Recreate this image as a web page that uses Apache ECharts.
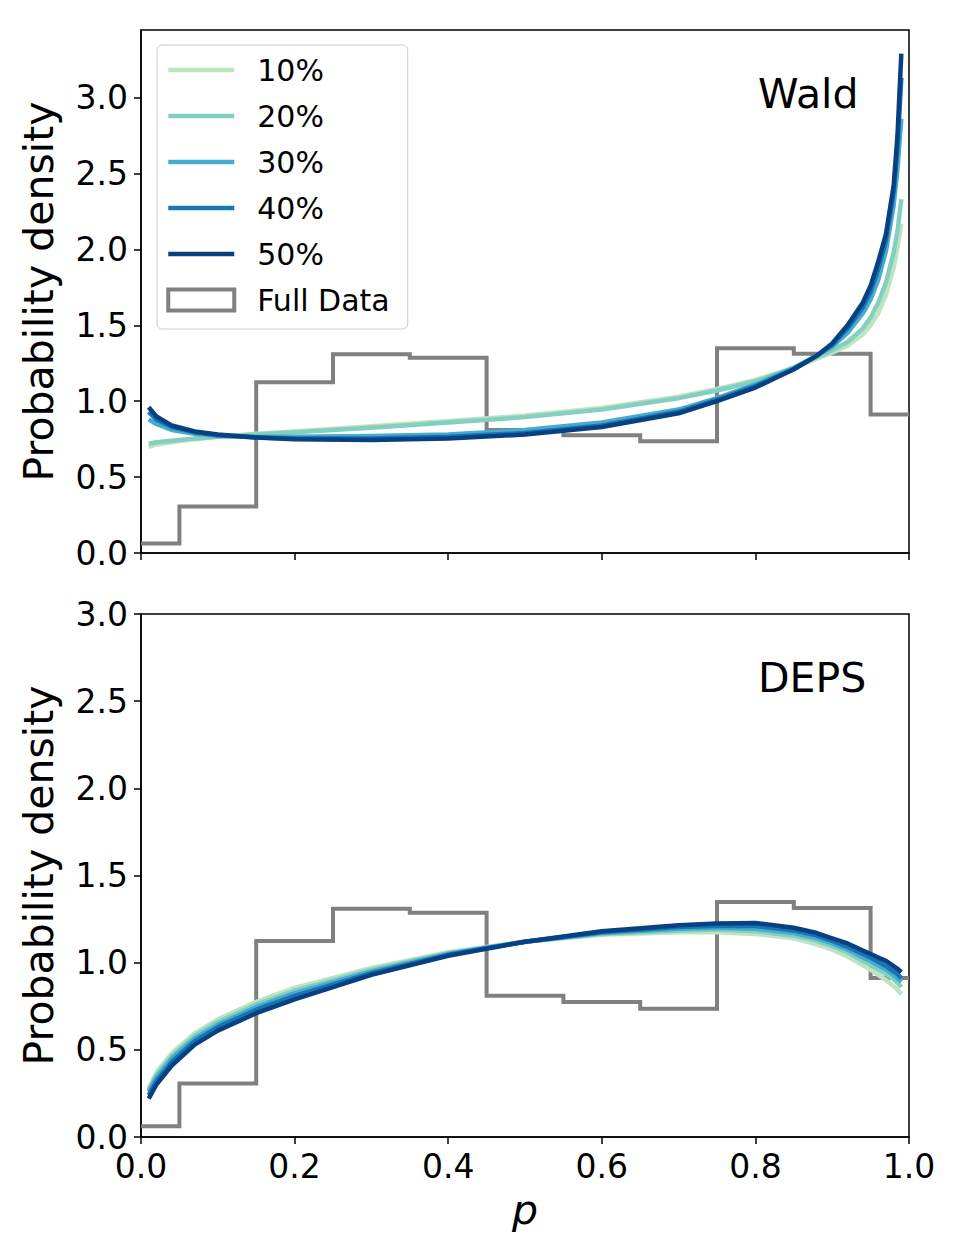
<!DOCTYPE html>
<html><head><meta charset="utf-8">
<script src="https://cdn.jsdelivr.net/npm/echarts@6/dist/echarts.min.js"></script>
<style>html,body{margin:0;padding:0;background:#fff}#c{width:960px;height:1260px}</style>
</head><body><div id="c"></div>
<script>
// ---- data ----
const pGrid = [0.01,0.02,0.04,0.07,0.1,0.15,0.2,0.3,0.4,0.5,0.6,0.7,0.75,0.8,0.85,0.88,0.9,0.92,0.94,0.95,0.96,0.97,0.98,0.985,0.99];
const seriesNames = ['10%','20%','30%','40%','50%'];
const wald10 = [0.70,0.715,0.73,0.75,0.765,0.785,0.80,0.835,0.87,0.905,0.955,1.03,1.08,1.14,1.22,1.28,1.32,1.365,1.44,1.50,1.58,1.70,1.88,2.01,2.17];
const wald20 = [0.72,0.73,0.74,0.755,0.765,0.78,0.795,0.825,0.86,0.895,0.945,1.02,1.07,1.13,1.22,1.29,1.335,1.39,1.48,1.55,1.65,1.78,1.98,2.12,2.33];
const wald30 = [0.88,0.85,0.81,0.785,0.77,0.765,0.765,0.77,0.78,0.81,0.86,0.945,1.02,1.11,1.22,1.30,1.36,1.45,1.58,1.67,1.80,1.99,2.29,2.53,2.86];
const wald40 = [0.93,0.88,0.83,0.795,0.775,0.76,0.755,0.755,0.765,0.79,0.84,0.93,1.01,1.10,1.21,1.30,1.37,1.48,1.62,1.72,1.87,2.06,2.38,2.66,3.13];
const wald50 = [0.96,0.90,0.84,0.80,0.78,0.76,0.75,0.745,0.755,0.78,0.83,0.92,1.00,1.09,1.21,1.30,1.38,1.50,1.65,1.76,1.92,2.10,2.42,2.75,3.29];
const deps10 = [0.28,0.37,0.48,0.595,0.675,0.775,0.855,0.97,1.06,1.12,1.16,1.175,1.175,1.165,1.14,1.105,1.075,1.035,0.985,0.96,0.93,0.90,0.865,0.845,0.82];
const deps20 = [0.27,0.355,0.465,0.58,0.66,0.76,0.84,0.96,1.055,1.12,1.165,1.185,1.19,1.18,1.155,1.125,1.095,1.06,1.01,0.99,0.96,0.935,0.905,0.885,0.86];
const deps30 = [0.26,0.34,0.45,0.565,0.645,0.745,0.825,0.95,1.05,1.12,1.17,1.195,1.20,1.195,1.17,1.14,1.11,1.075,1.03,1.01,0.985,0.96,0.93,0.91,0.89];
const deps40 = [0.24,0.32,0.43,0.55,0.63,0.73,0.81,0.94,1.045,1.12,1.175,1.205,1.21,1.21,1.185,1.155,1.125,1.09,1.05,1.03,1.005,0.98,0.95,0.935,0.91];
const deps50 = [0.22,0.30,0.41,0.53,0.61,0.71,0.79,0.93,1.04,1.12,1.18,1.215,1.225,1.228,1.20,1.17,1.14,1.11,1.07,1.05,1.03,1.01,0.98,0.965,0.945];
const binEdges = [-0.05,0.05,0.15,0.25,0.35,0.45,0.55,0.65,0.75,0.85,0.95,1.05];
const histHeights = [0.062,0.307,1.124,1.309,1.286,0.81,0.775,0.736,1.348,1.313,0.912];
const xTicks = [0,0.2,0.4,0.6,0.8,1.0];
const yTicks = [0,0.5,1.0,1.5,2.0,2.5,3.0];
const panelTitles = ['Wald','DEPS'];
const histName = 'Full Data';

// ---- styling ----
const colors = ['#bde5bf','#84cfc1','#47abcf','#1676b3','#084081'];
const FONT = 'DejaVu Sans';
const histColor = '#808080';

function zipP(vals){ return pGrid.map((p,i)=>[p, vals[i]]); }
function clamp01(x){ return Math.max(0, Math.min(1, x)); }
function histPoints(){
  const pts = [];
  histHeights.forEach((h,i)=>{ pts.push([clamp01(binEdges[i]),h]); pts.push([clamp01(binEdges[i+1]),h]); });
  return pts;
}

const gridTops = [30, 614];
const gridH = 523;
const yMax = [3.445, 3.0];
const panels = [[wald10,wald20,wald30,wald40,wald50],[deps10,deps20,deps30,deps40,deps50]];

const grids = gridTops.map(t=>({left:141, right:51, top:t, height:gridH, show:true, borderColor:'#000', borderWidth:1.5, backgroundColor:'transparent'}));

const xAxes = [0,1].map(i=>({
  type:'value', gridIndex:i, min:0, max:1, interval:0.2,
  axisLine:{show:true, onZero:false, lineStyle:{color:'#000', width:1.5}},
  axisTick:{show:true, length:7, lineStyle:{color:'#000', width:1.5}, customValues: xTicks},
  axisLabel:{show:i===1, customValues: xTicks, margin:13, fontFamily:FONT, fontSize:33, color:'#000', formatter:v=>v.toFixed(1)},
  splitLine:{show:false},
  name: i===1 ? 'p' : '', nameLocation:'middle', nameGap:52,
  nameTextStyle:{fontFamily:FONT, fontSize:41, fontStyle:'italic', color:'#000'}
}));
const yAxes = [0,1].map(i=>({
  type:'value', gridIndex:i, min:0, max:yMax[i],
  axisLine:{show:true, onZero:false, lineStyle:{color:'#000', width:1.5}},
  axisTick:{show:true, length:7, lineStyle:{color:'#000', width:1.5}, customValues: yTicks},
  axisLabel:{show:true, customValues: yTicks, margin:13, fontFamily:FONT, fontSize:33, color:'#000', formatter:v=>v.toFixed(1)},
  splitLine:{show:false},
  name:'Probability density', nameLocation:'middle', nameGap:82,
  nameTextStyle:{fontFamily:FONT, fontSize:41, color:'#000'}
}));

const series = [];
[0,1].forEach(pi=>{
  series.push({
    name:histName, type:'line', xAxisIndex:pi, yAxisIndex:pi, data:histPoints(),
    showSymbol:false, symbol:'none', lineStyle:{color:histColor, width:4, join:'miter'},
    itemStyle:{color:histColor}, silent:true, z:2, animation:false
  });
  panels[pi].forEach((vals,k)=>{
    series.push({
      name:seriesNames[k], type:'line', xAxisIndex:pi, yAxisIndex:pi, data:zipP(vals),
      showSymbol:false, symbol:'none', smooth:false,
      lineStyle:{color:colors[k], width:4.5, cap:'butt', join:'round'}, itemStyle:{color:colors[k]},
      z:3+k, animation:false
    });
  });
});

const option = {
  animation:false,
  backgroundColor:'#fff',
  textStyle:{fontFamily:FONT},
  grid: grids, xAxis: xAxes, yAxis: yAxes, series: series,
  legend:{
    orient:'vertical', left:157, top:45, padding:[10,14,14,9],
    itemWidth:66, itemHeight:21, itemGap:16,
    backgroundColor:'rgba(255,255,255,0.8)', borderColor:'#cccccc', borderWidth:1, borderRadius:5,
    textStyle:{fontFamily:FONT, fontSize:30, color:'#000', lineHeight:30, padding:[0,4,0,18]},
    data: seriesNames.map((n,k)=>({name:n, itemStyle:{opacity:0}, lineStyle:{color:colors[k], width:4.5, opacity:1}})).concat([{name:histName, icon:'rect', itemStyle:{color:'rgba(0,0,0,0)', borderColor:histColor, borderWidth:4, opacity:1}}]),
    selectedMode:false
  },
  graphic: panelTitles.map((t,i)=>({
    type:'text', left:758, top: gridTops[i] + 43, z:100,
    style:{text:t, fontFamily:FONT, fontSize:41, fill:'#000'}
  }))
};

const chart = echarts.init(document.getElementById('c'), null, {renderer:'svg', width:960, height:1260});
chart.setOption(option);
</script>
</body></html>
